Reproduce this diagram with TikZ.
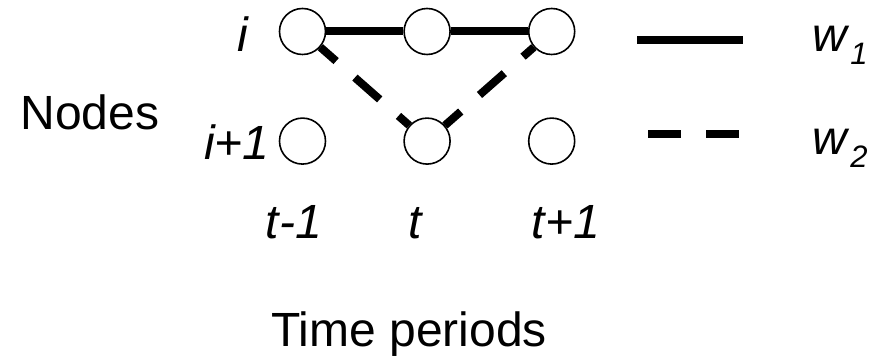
\documentclass[tikz,border=0pt]{standalone}
\usepackage{fontspec}
\setmainfont{Liberation Sans}
\usetikzlibrary{positioning}
\tikzstyle{wone} = [line width=8pt]
\tikzstyle{wtwo} = [line width=8pt,dash pattern=on 33pt off 25pt]
\newcommand{\wsub}[1]{\textit{w}\kern1pt\raisebox{-13pt}{\fontsize{31}{31}\selectfont\itshape #1}}

\begin{document}
\begin{tikzpicture}[x=1pt,y=1pt,node distance=62pt and 77pt,
    every node/.style={font=\fontsize{48}{58}\selectfont, inner sep=0pt},
    period/.style={shape=circle,draw,line width=1.6pt,fill=white,minimum size=46pt}]
    \useasboundingbox (0,0) rectangle (871,358);
    % create the nodes
    \node (a1) [period] at (302.5,326.5) {};
    \node (a2) [period, right=of a1] {};
    \node (a3) [period, right=of a2] {};
    \node (b1) [period, below=of a1] {};
    \node (b2) [period, right=of b1] {};
    \node (b3) [period, right=of b2] {};
    % row and column labels
    \node (ri) [anchor=base] at (243,306) {\itshape i};
    \node (rj) [anchor=base] at (237,198) {\itshape i+1};
    \node (nodes) [anchor=base] at (90,228) {Nodes};
    \node (tm) [anchor=base] at (294,119) {\itshape t-1};
    \node (tt) [anchor=base] at (415,119) {\itshape t};
    \node (tp) [anchor=base] at (566,119) {\itshape t+1};
    \node (periods) [anchor=base] at (409,11) {Time periods};
    % legend
    \coordinate (s1) at (637,318);
    \coordinate (s2) at (743,318);
    \coordinate (d1) at (648,224);
    \coordinate (d2) at (740,224);
    \node (w1) [anchor=base west] at (812,306) {\wsub{1}};
    \node (w2) [anchor=base west] at (812,203) {\wsub{2}};
    % connect the nodes
    \draw[wone] (a1) -- (a2);
    \draw[wone] (a2) -- (a3);
    \draw[wtwo, dash phase=12pt] (a1) -- (b2);
    \draw[wtwo, dash phase=12pt] (b2) -- (a3);
    \draw[wone] (s1) -- (s2);
    \draw[wtwo] (d1) -- (d2);
\end{tikzpicture}
\end{document}
